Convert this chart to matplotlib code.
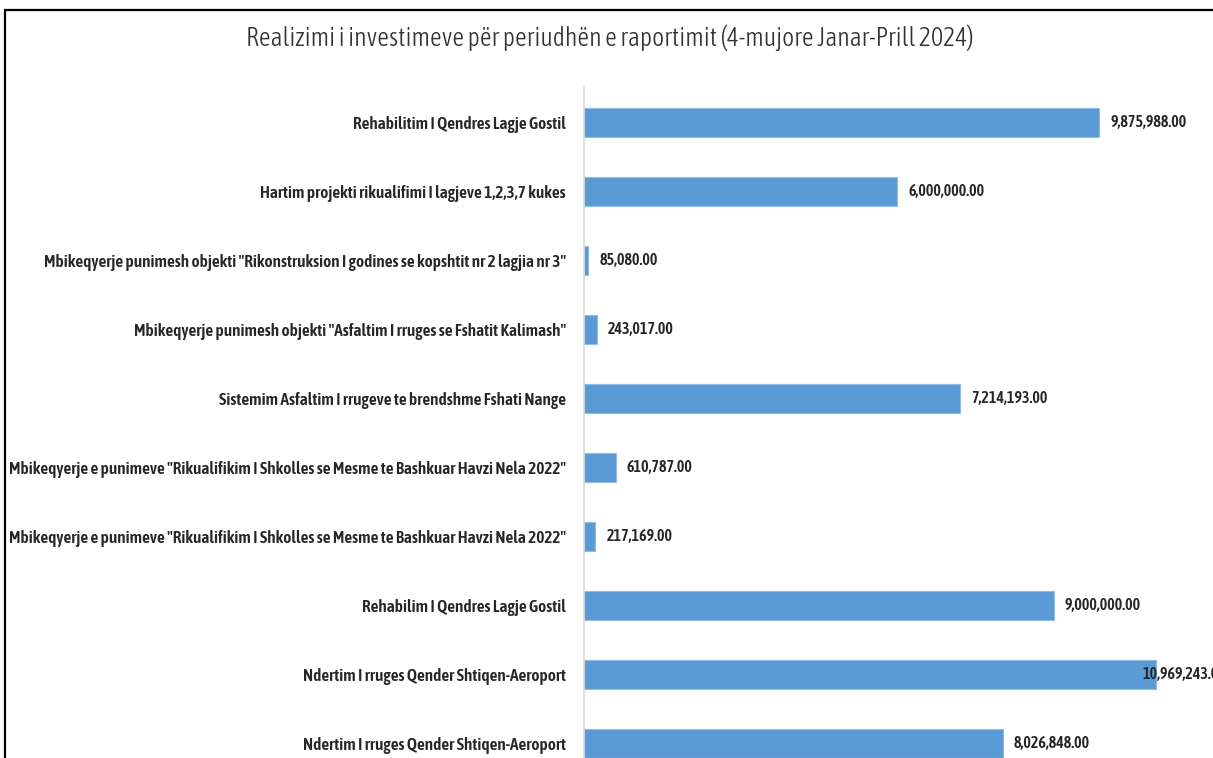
import matplotlib
matplotlib.use("Agg")
import matplotlib.pyplot as plt
from matplotlib.patches import Rectangle
from matplotlib import font_manager

# data, top to bottom as shown
projects = [
    "Rehabilitim I Qendres Lagje Gostil",
    "Hartim projekti rikualifimi I lagjeve 1,2,3,7 kukes",
    "Mbikeqyerje punimesh objekti \"Rikonstruksion I godines se kopshtit nr 2 lagjia nr 3\"",
    "Mbikeqyerje punimesh objekti \"Asfaltim I rruges se Fshatit Kalimash\"",
    "Sistemim Asfaltim I rrugeve te brendshme Fshati Nange",
    "Mbikeqyerje e punimeve \"Rikualifikim I Shkolles se Mesme te Bashkuar Havzi Nela 2022\"",
    "Mbikeqyerje e punimeve \"Rikualifikim I Shkolles se Mesme te Bashkuar Havzi Nela 2022\"",
    "Rehabilim I Qendres Lagje Gostil",
    "Ndertim I rruges Qender Shtiqen-Aeroport",
    "Ndertim I rruges Qender Shtiqen-Aeroport",
]
amounts = [9875988.00, 6000000.00, 85080.00, 243017.00, 7214193.00,
           610787.00, 217169.00, 9000000.00, 10969243.00, 8026848.00]

title = "Realizimi i investimeve për periudhën e raportimit (4-mujore Janar-Prill 2024)"

names = {f.name for f in font_manager.fontManager.ttflist}
narrow = next((n for n in ["Asap Condensed", "Archivo Narrow", "Liberation Sans"] if n in names),
              "DejaVu Sans")

W, H = 1213, 758
fig = plt.figure(figsize=(W / 100, H / 100), dpi=100)

# axes placement in pixels
ax_left, ax_top, ax_bottom = 584, 87, 758
ax = fig.add_axes([ax_left / W, 1 - ax_bottom / H, 1 - ax_left / W, (ax_bottom - ax_top) / H])

ypos = list(range(len(projects)))
ax.barh(ypos, amounts, height=0.42, color="#5b9bd5", edgecolor="#8fbbe6", linewidth=0.8)
ax.set_xlim(0, 12.057e6)
ax.set_ylim(len(projects) - 1 + 0.21, -0.514)

for y, v in zip(ypos, amounts):
    # keep the label from running off to the right like excel does
    off = 11 if v < 10.5e6 else -14
    ax.annotate(f"{v:,.2f}", (v, y), xytext=(off, 0), textcoords="offset pixels",
                ha="left", va="center", fontsize=11.5, fontweight=600,
                family=narrow, color="#262626", annotation_clip=False)

ax.set_yticks(ypos)
ax.set_yticklabels(projects, fontsize=12.4, fontweight=600, family=narrow, color="#262626")
ax.tick_params(axis="y", length=0, pad=13)
ax.set_xticks([])
for s in ["top", "right", "bottom"]:
    ax.spines[s].set_visible(False)
ax.spines["left"].set_color("#d9d9d9")
ax.spines["left"].set_linewidth(1.2)

fig.text(610 / W, 1 - 38 / H, title, ha="center", va="center", fontsize=18.5,
         family=narrow, fontweight=300, color="#333333")

# outer chart border, cropped on the right and bottom
fig.patches.append(Rectangle((5 / W, -0.1), 1.2, 1 - 10 / H + 0.1, transform=fig.transFigure,
                             fill=False, edgecolor="black", linewidth=1.6))

fig.savefig("out.png", dpi=100)
